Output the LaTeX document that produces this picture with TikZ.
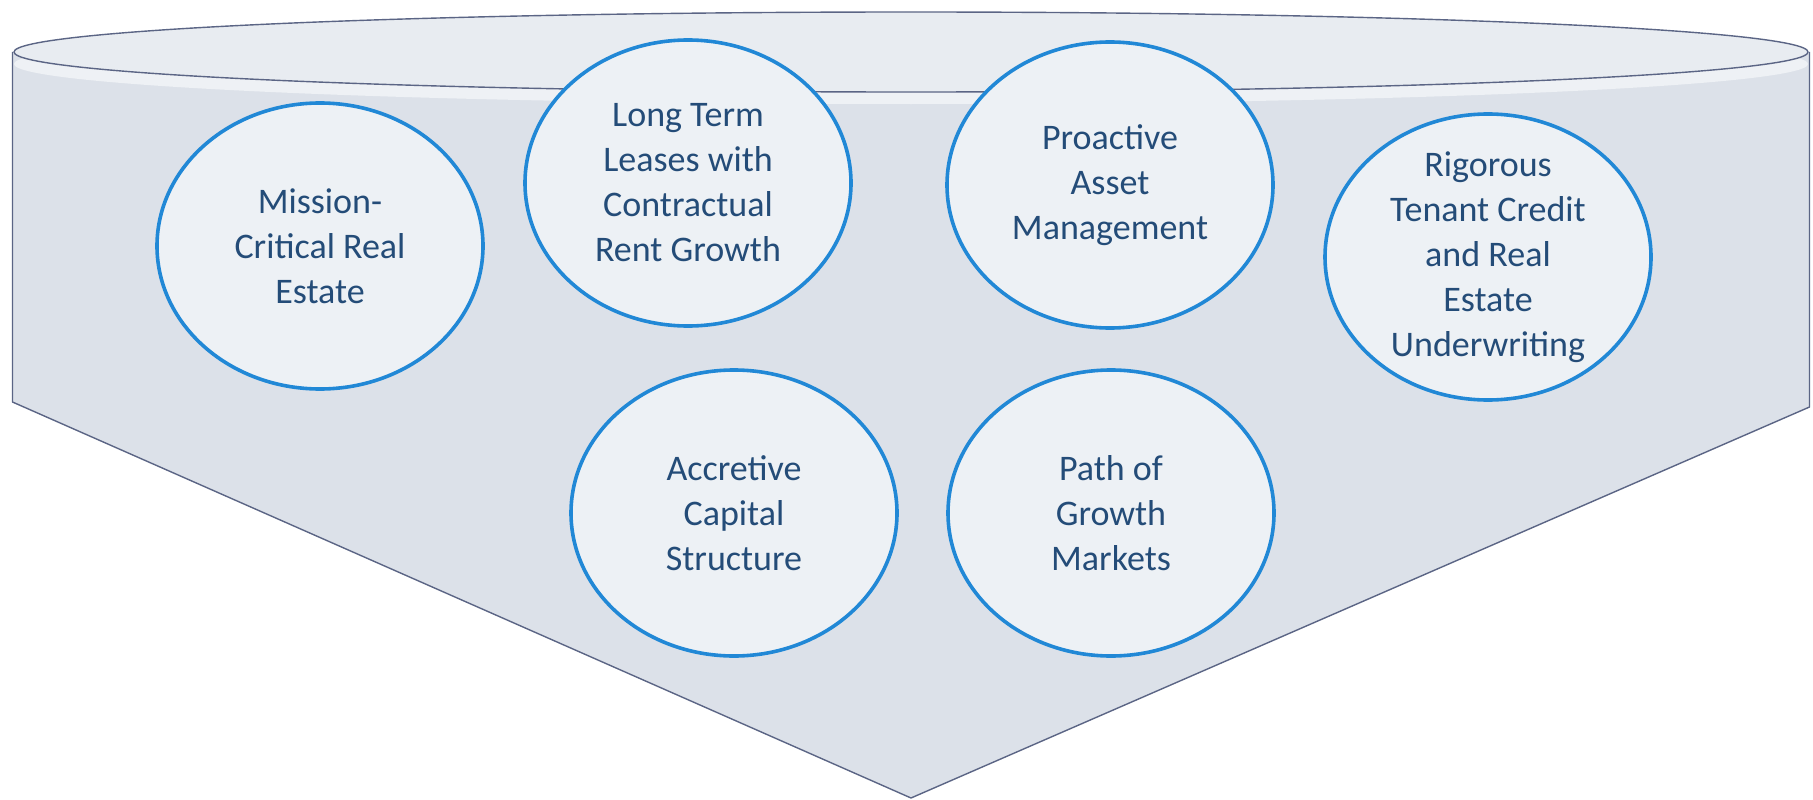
\documentclass[tikz,border=0pt]{standalone}
\usepackage{fontspec}
\setmainfont{Carlito}
\usetikzlibrary{shapes.geometric}
\definecolor{bodyfill}{HTML}{DCE1E9}
\definecolor{topfill}{HTML}{E8ECF1}
\definecolor{bandfill}{HTML}{EEF1F5}
\definecolor{edge}{HTML}{5B6585}
\definecolor{ringblue}{RGB}{33,136,214}
\definecolor{ringfill}{HTML}{EDF1F5}
\definecolor{txt}{HTML}{244C78}
\tikzset{
  ring/.style={ellipse, draw=ringblue, line width=3.6pt, fill=ringfill,
    minimum width=326pt, minimum height=286pt, inner sep=0pt},
  lbl/.style={align=center, text=txt, font=\fontsize{36}{45}\selectfont, inner sep=0pt},
  funnel/.style={draw=edge, line width=1.4pt, line join=round}
}
\begin{document}
\begin{tikzpicture}[x=1pt,y=-1pt]
\useasboundingbox (0,0) rectangle (1813,800);
% body
\coordinate (tl) at (12.5,52);
\coordinate (bl) at (12.5,402);
\coordinate (apex) at (911,798);
\coordinate (br) at (1809.5,407);
\coordinate (tr) at (1809.5,52);
\fill[bodyfill] (tl) -- (bl) -- (apex) -- (br) -- (tr) -- cycle;
\begin{scope}
  \clip (tl) -- (bl) -- (apex) -- (br) -- (tr) -- cycle;
  \fill[bandfill] (911,64) ellipse [x radius=897, y radius=40];
\end{scope}
\draw[funnel] (tl) -- (bl) -- (apex) -- (br) -- (tr);
% top ellipse
\filldraw[funnel, fill=topfill] (911,52) ellipse [x radius=897, y radius=40];
% rings
\node[ring] (e1) at (320,246) {};
\node[ring] (e2) at (688,183) {};
\node[ring] (e3) at (1110,185) {};
\node[ring] (e4) at (1488,257) {};
\node[ring] (e5) at (734,513) {};
\node[ring] (e6) at (1111,513) {};
% labels
\node[lbl] (t1) at (e1.center) {Mission-\\Critical Real\\Estate};
\node[lbl] (t2) at (e2.center) {Long Term\\Leases with\\Contractual\\Rent Growth};
\node[lbl] (t3) at (e3.center) {Proactive\\Asset\\Management};
\node[lbl] (t4) at (e4.center) {Rigorous\\Tenant Credit\\and Real\\Estate\\Underwriting};
\node[lbl] (t5) at (e5.center) {Accretive\\Capital\\Structure};
\node[lbl] (t6) at (e6.center) {Path of\\Growth\\Markets};
\end{tikzpicture}
\end{document}
